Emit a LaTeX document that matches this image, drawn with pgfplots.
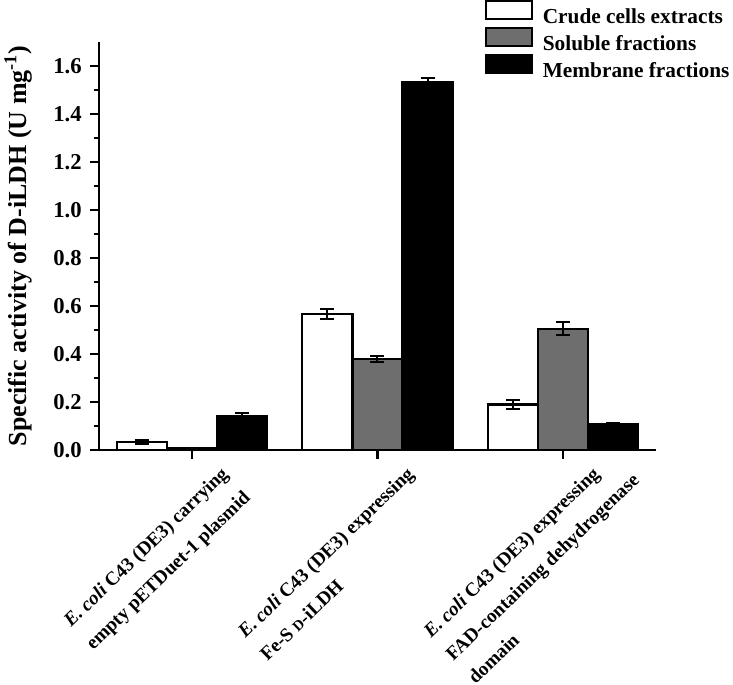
\documentclass[border=0pt]{standalone}
\usepackage{pgfplots}
\pgfplotsset{compat=1.18}
\usepackage{fontspec}
\setmainfont{Liberation Serif}
\newcommand{\smD}{{\fontsize{11}{11}\selectfont D}}
\pgfplotstableread{
x y e
0 0.033 0.007
1 0.567 0.020
2 0.190 0.020
}\crude
\pgfplotstableread{
x y e
0 0.008 0.002
1 0.378 0.012
2 0.505 0.027
}\soluble
\pgfplotstableread{
x y e
0 0.142 0.012
1 1.532 0.017
2 0.107 0.007
}\membrane
\pgfplotsset{
  myerr/.style={error bars/.cd, y dir=both, y explicit,
    error bar style={line width=1.5pt, black, solid},
    error mark options={rotate=90, line width=1.5pt, black, mark size=5.25pt}},
}
\begin{document}
\begin{tikzpicture}
\path[use as bounding box] (0,0) rectangle (549.75pt,513.75pt);
\begin{axis}[
  at={(74.25pt,176.25pt)}, anchor=south west,
  width=417.75pt, height=306pt, scale only axis,
  xmin=-0.5, xmax=2.5, ymin=0, ymax=1.7,
  axis lines*=left,
  axis line style={line width=1.6pt},
  ybar, bar width=0.27,
  xtick={0,1,2},
  xticklabels={
    {\textit{E. coli} C43 (DE3) carrying\\empty pETDuet-1 plasmid},
    {\textit{E. coli} C43 (DE3) expressing\\Fe-S \smD-iLDH},
    {\textit{E. coli} C43 (DE3) expressing\\\rlap{FAD-containing dehydrogenase}\\domain}},
  xticklabel style={font=\fontsize{14.5}{24}\selectfont\bfseries, align=left, inner sep=0pt, xshift=21pt, yshift=-5pt, rotate=44, anchor=north east},
  ytick={0,0.2,0.4,0.6,0.8,1.0,1.2,1.4,1.6},
  minor y tick num=1,
  tick align=outside,
  major tick length=6.5pt, minor tick length=4pt,
  every tick/.style={black, line width=1.6pt},
  /pgf/number format/assume math mode=true,
  yticklabel style={font=\fontsize{17}{17}\selectfont\bfseries, /pgf/number format/fixed, /pgf/number format/fixed zerofill, /pgf/number format/precision=1, xshift=-3pt},
  ylabel={Specific activity of D-iLDH (U mg\textsuperscript{-1})},
  ylabel style={font=\fontsize{19.5}{20}\selectfont\bfseries, at={(axis description cs:-0.145,0.5)}, anchor=center},
  legend image code/.code={\draw[#1, line width=1.5pt] (0pt,-1.5pt) rectangle (35pt,12pt);},
  legend style={at={(axis description cs:0.685,1.11)}, anchor=north west, draw=none, fill=none,
    font=\fontsize{16}{16}\selectfont\bfseries, nodes={inner sep=0pt}, column sep=7pt, row sep=1.25pt,
    cells={anchor=west}},
  legend cell align=left,
]
\addplot[fill=white, draw=black, line width=1.7pt, bar shift=-0.27, myerr] table[x=x, y=y, y error=e] {\crude};
\addplot[fill=black!57, draw=black, line width=1.7pt, bar shift=0, myerr] table[x=x, y=y, y error=e] {\soluble};
\addplot[fill=black, draw=black, line width=1.7pt, bar shift=0.27, myerr] table[x=x, y=y, y error=e] {\membrane};
\legend{Crude cells extracts, Soluble fractions, Membrane fractions}
\end{axis}
\end{tikzpicture}
\end{document}
